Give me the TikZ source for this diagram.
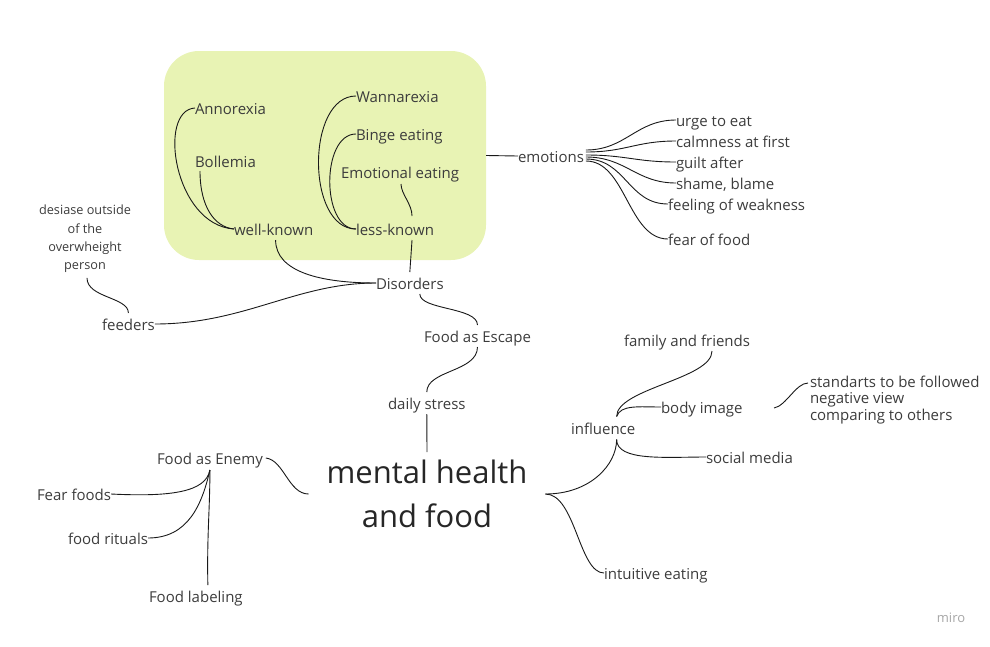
\documentclass[tikz,border=0pt]{standalone}
\usepackage{fontspec}
\setmainfont{Open Sans}
\usetikzlibrary{calc,positioning}
\definecolor{mhfgreen}{HTML}{E8F3B4}
\definecolor{mhftext}{HTML}{3C3C3C}
\tikzset{
 mhf link/.style={line width=.9pt,draw=black!90},
 mhf topic/.style={inner sep=0pt,outer sep=0pt,text=mhftext,anchor=west,
                   font=\fontsize{15}{18}\selectfont,text height=13pt,text depth=1pt},
 mhf note/.style={inner sep=0pt,outer sep=0pt,text=mhftext,align=center,
                  font=\fontsize{12.7}{18.4}\selectfont},
 mhf main/.style={inner xsep=18pt,inner ysep=8pt,outer sep=0pt,text=black!85,
                  align=center,font=\fontsize{31}{44}\selectfont},
 mhf group/.style={fill=mhfgreen,draw=none,rounded corners=35pt,
                   minimum width=322pt,minimum height=209pt}
}
\begin{document}
\begin{tikzpicture}[x=1pt,y=-1pt]
 \useasboundingbox (0,0) rectangle (990,646);
 % disorders group
 \node[mhf group] (disbox) at (325,155.5) {};
 \node[mhf topic] (annorexia) at (195,108) {Annorexia};
 \node[mhf topic] (bollemia) at (195,161) {Bollemia};
 \node[mhf topic] (wellknown) at (234,229) {well-known};
 \node[mhf topic] (wannarexia) at (356,96) {Wannarexia};
 \node[mhf topic] (binge) at (356,134) {Binge eating};
 \node[mhf topic] (emoeat) at (341,172) {Emotional eating};
 \node[mhf topic] (lessknown) at (356,229) {less-known};
 \node[mhf topic] (disorders) at (376,283) {Disorders};
 \node[mhf note] (desiase) at (85,239) {desiase outside\\of the\\overwheight\\person};
 \node[mhf topic] (feeders) at (102,324) {feeders};
 \draw[mhf link] (annorexia.west) .. controls +(-38,2) and +(-60,-4) .. (wellknown.west);
 \draw[mhf link] ($(bollemia.south west)+(5,3)$) .. controls +(0,35) and +(-20,-2) .. (wellknown.west);
 \draw[mhf link] (wannarexia.west) .. controls +(-50,0) and +(-50,0) .. (lessknown.west);
 \draw[mhf link] (binge.west) .. controls +(-35,0) and +(-35,0) .. (lessknown.west);
 \draw[mhf link] ($(emoeat.south)+(1,5)$) .. controls +(0,10) and +(0,-12) .. ($(lessknown.north)+(17,-6)$);
 \draw[mhf link] ($(lessknown.south)+(17,4)$) -- ($(disorders.north)+(0,-4)$);
 \draw[mhf link] ($(wellknown.south)+(2,4)$) .. controls +(0,32) and +(-55,0) .. (disorders.west);
 \draw[mhf link] (disorders.west) .. controls +(-80,0) and +(90,0) .. (feeders.east);
 \draw[mhf link] ($(desiase.south)+(2,5)$) .. controls +(0,20) and +(0,-16) .. ($(feeders.north)+(0,-4)$);

 % emotions
 \node[mhf topic] (emotions) at (518,156) {emotions};
 \draw[mhf link] (disbox.east) -- (emotions.west);
 \foreach \n/\t/\x/\y/\dy in {urge/urge to eat/676/120/-6,calm/calmness at first/676/141/-4,
   guilt/guilt after/676/162/-1,shame/{shame, blame}/676/183/1,
   weakness/feeling of weakness/668/204/3,fearfood/fear of food/668/239/5}{
   \node[mhf topic] (\n) at (\x,\y) {\t};
   \draw[mhf link] ($(emotions.east)+(2,\dy)$) .. controls +(40,0) and +(-40,0) .. (\n.west);
 }

 % escape and centre
 \node[mhf topic] (escape) at (424,336) {Food as Escape};
 \node[mhf topic] (stress) at (388,403) {daily stress};
 \node[mhf main] (main) at (427,494) {mental health\\and food};
 \draw[mhf link] ($(disorders.south)+(10,4)$) .. controls +(0,16) and +(0,-18) .. ($(escape.north)+(0,-4)$);
 \draw[mhf link] ($(escape.south)+(0,4)$) .. controls +(0,25) and +(0,-22) .. ($(stress.north)+(0,-4)$);
 \draw[mhf link] ($(stress.south)+(0,4)$) -- (main.north);

 % food as enemy
 \node[mhf topic] (enemy) at (157,458) {Food as Enemy};
 \node[mhf topic] (fearfoods) at (37,494) {Fear foods};
 \node[mhf topic] (rituals) at (68,538) {food rituals};
 \node[mhf topic] (labeling) at (149,596) {Food labeling};
 \coordinate (enemyfork) at ($(enemy.south)+(0,5)$);
 \draw[mhf link] (main.west) .. controls +(-20,0) and +(18,2) .. ($(enemy.east)+(3,0)$);
 \draw[mhf link] (fearfoods.east) .. controls +(60,3) and +(-4,22) .. (enemyfork);
 \draw[mhf link] (rituals.east) .. controls +(40,0) and +(-8,35) .. (enemyfork);
 \draw[mhf link] ($(labeling.north)+(12,-4)$) .. controls +(-1,-50) and +(0,40) .. (enemyfork);

 % influence
 \node[mhf topic] (influence) at (571,428) {influence};
 \node[mhf topic] (family) at (624,340) {family and friends};
 \node[mhf topic] (bodyimage) at (661,407) {body image};
 \node[mhf topic,anchor=north west,align=left,font=\fontsize{15}{16.5}\selectfont,
       text height=,text depth=] (standarts) at (810,376)
   {standarts to be followed\\negative view\\comparing to others};
 \node[mhf topic] (social) at (706,457) {social media};
 \node[mhf topic] (intuitive) at (604,573) {intuitive eating};
 \coordinate (imagegap) at (774,408);
 \draw[mhf link] (main.east) .. controls +(45,0) and +(0,25) .. ($(influence.south)+(13.5,4.5)$);
 \draw[mhf link] (main.east) .. controls +(30,0) and +(-25,0) .. (intuitive.west);
 \draw[mhf link] ($(influence.north)+(13.5,-4.5)$) .. controls +(0,-28) and +(0,28) .. ($(family.south)+(25,4)$);
 \draw[mhf link] ($(influence.north)+(13.5,-4.5)$) .. controls +(4,-12) and +(-22,0) .. (bodyimage.west);
 \draw[mhf link] ($(influence.south)+(13.5,4.5)$) .. controls +(0,22) and +(-40,0) .. (social.west);
 \draw[mhf link] (imagegap) .. controls +(12,-2) and +(-12,0) .. ($(standarts.north west)+(-2,7)$);

 \node[inner sep=0pt,text=black!35,font=\fontsize{13}{15}\selectfont] (miro) at (951,618) {miro};
\end{tikzpicture}
\end{document}
